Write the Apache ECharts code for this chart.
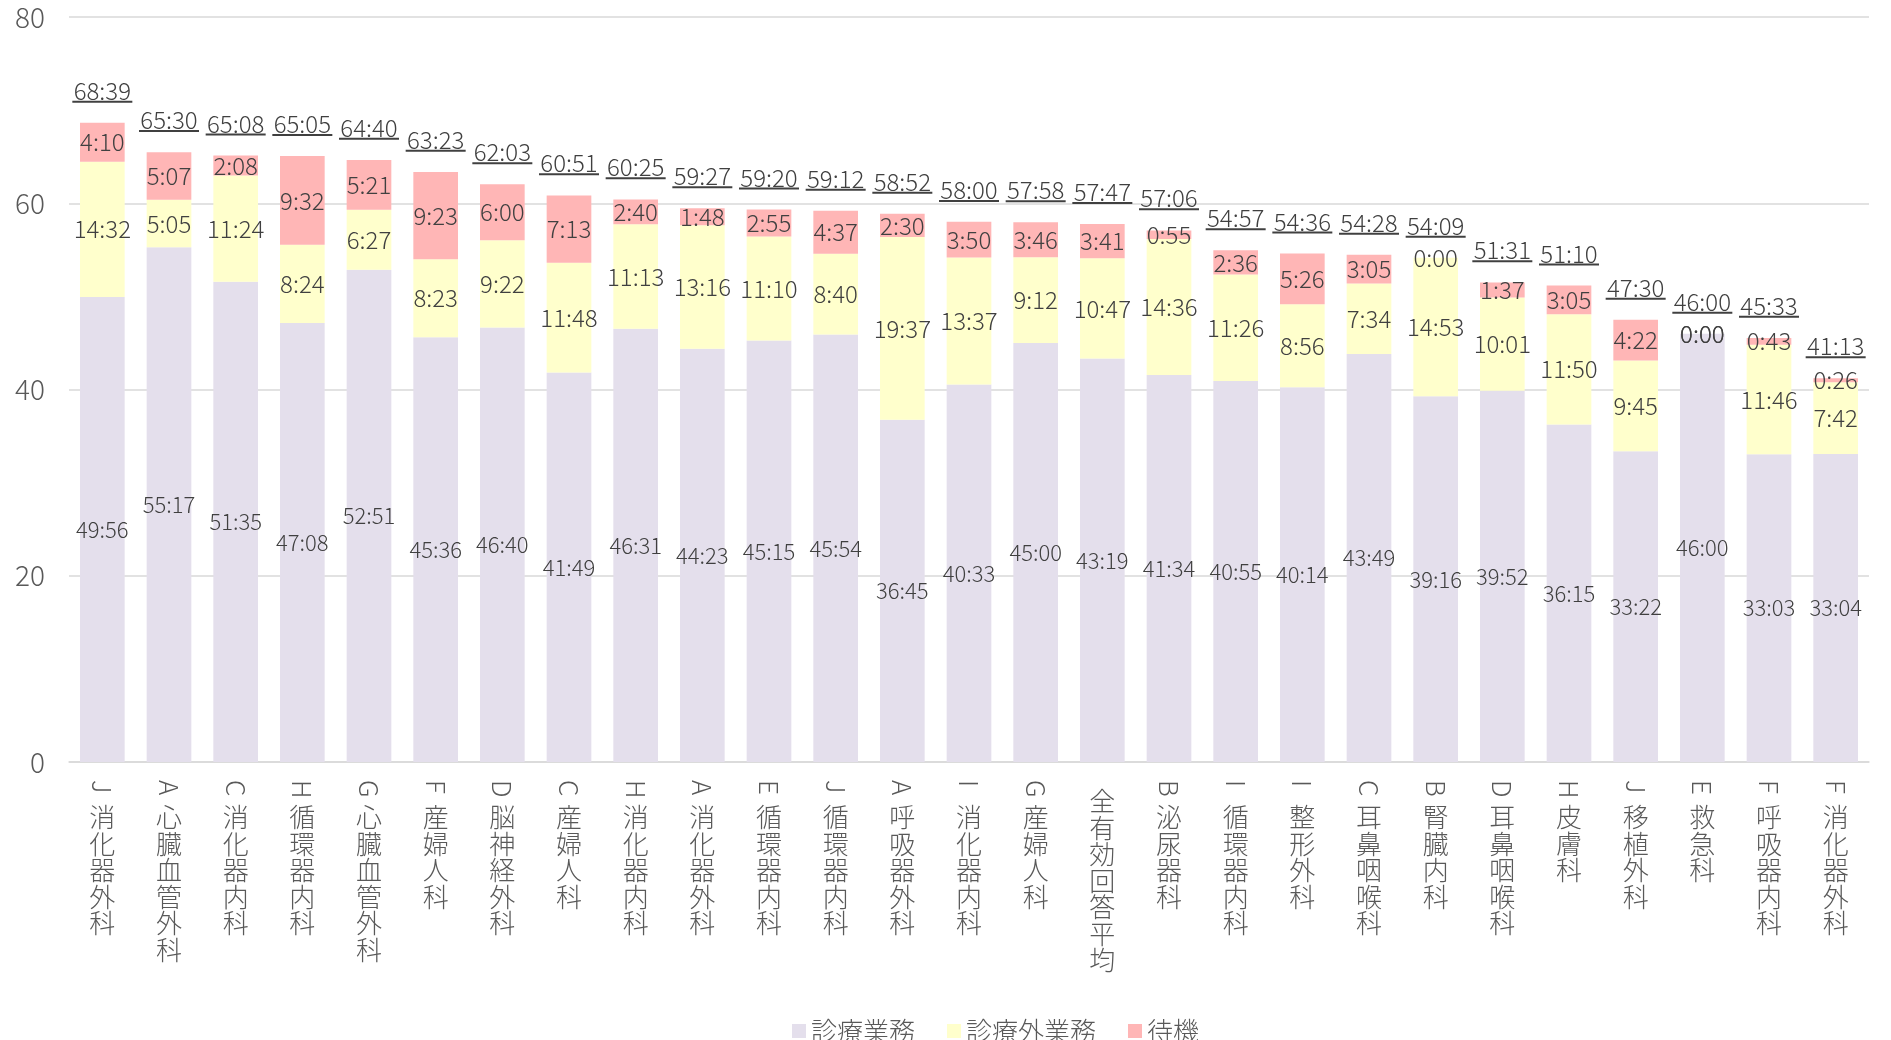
<!DOCTYPE html>
<html>
<head>
<meta charset="utf-8">
<script src="https://cdn.jsdelivr.net/npm/echarts@6/dist/echarts.min.js"></script>
<style>
  html, body { margin: 0; padding: 0; background: #fff; }
  #chart { width: 1891px; height: 1040px; }
</style>
</head>
<body>
<div id="chart"></div>
<script>
// 病院 + 診療科（平均勤務時間 h:mm / 週）
const categories = [
  'J 消化器外科', 'A 心臓血管外科', 'C 消化器内科', 'H 循環器内科', 'G 心臓血管外科',
  'F 産婦人科', 'D 脳神経外科', 'C 産婦人科', 'H 消化器内科', 'A 消化器外科',
  'E 循環器内科', 'J 循環器内科', 'A 呼吸器外科', 'I 消化器内科', 'G 産婦人科',
  '全有効回答平均', 'B 泌尿器科', 'I 循環器内科', 'I 整形外科', 'C 耳鼻咽喉科',
  'B 腎臓内科', 'D 耳鼻咽喉科', 'H 皮膚科', 'J 移植外科', 'E 救急科',
  'F 呼吸器内科', 'F 消化器外科'
];
const clinical = [
  '49:56', '55:17', '51:35', '47:08', '52:51', '45:36', '46:40', '41:49', '46:31', '44:23',
  '45:15', '45:54', '36:45', '40:33', '45:00', '43:19', '41:34', '40:55', '40:14', '43:49',
  '39:16', '39:52', '36:15', '33:22', '46:00', '33:03', '33:04'
];
const nonClinical = [
  '14:32', '5:05', '11:24', '8:24', '6:27', '8:23', '9:22', '11:48', '11:13', '13:16',
  '11:10', '8:40', '19:37', '13:37', '9:12', '10:47', '14:36', '11:26', '8:56', '7:34',
  '14:53', '10:01', '11:50', '9:45', '0:00', '11:46', '7:42'
];
const standby = [
  '4:10', '5:07', '2:08', '9:32', '5:21', '9:23', '6:00', '7:13', '2:40', '1:48',
  '2:55', '4:37', '2:30', '3:50', '3:46', '3:41', '0:55', '2:36', '5:26', '3:05',
  '0:00', '1:37', '3:05', '4:22', '0:00', '0:43', '0:26'
];
const totals = [
  '68:39', '65:30', '65:08', '65:05', '64:40', '63:23', '62:03', '60:51', '60:25', '59:27',
  '59:20', '59:12', '58:52', '58:00', '57:58', '57:47', '57:06', '54:57', '54:36', '54:28',
  '54:09', '51:31', '51:10', '47:30', '46:00', '45:33', '41:13'
];

const FONT = '"Noto Sans CJK JP", "Noto Sans", sans-serif';
const W = 300; // 細めの字

function toHours(s) {
  const p = s.split(':');
  return Number(p[0]) + Number(p[1]) / 60;
}

function segment(name, arr, color, size) {
  return {
    name: name,
    type: 'bar',
    stack: 'all',
    barCategoryGap: '33%',
    barGap: '-100%',
    itemStyle: { color: color },
    label: {
      show: true,
      position: 'inside',
      color: '#404040',
      fontFamily: FONT,
      fontWeight: W,
      fontSize: size,
      formatter: p => arr[p.dataIndex]
    },
    data: arr.map(toHours)
  };
}

const chart = echarts.init(document.getElementById('chart'));
chart.setOption({
  animation: false,
  textStyle: { fontFamily: FONT, fontWeight: W },
  grid: { left: 69, right: 22, top: 17, bottom: 278, containLabel: false },
  legend: {
    data: ['診療業務', '診療外業務', '待機'],
    left: 787,
    top: 1013,
    icon: 'rect',
    itemWidth: 14,
    itemHeight: 14,
    itemGap: 32,
    textStyle: { color: '#595959', fontSize: 26, fontFamily: FONT, fontWeight: W }
  },
  xAxis: [
    {
      type: 'category',
      data: categories,
      position: 'bottom',
      axisLine: { lineStyle: { color: '#d9d9d9', width: 1.5 } },
      axisTick: { show: false },
      axisLabel: {
        interval: 0,
        margin: 26,
        color: '#595959',
        fontFamily: FONT,
        fontWeight: W,
        fontSize: 26,
        lineHeight: 26.5,
        formatter: v => {
          const parts = v.split(' ');
          const name = parts.length > 1 ? parts[1] : parts[0];
          const chars = name.split('').join('\n');
          return parts.length > 1 ? '{gap|}\n' + chars : chars;
        },
        rich: { gap: { height: 16, lineHeight: 16 } }
      }
    },
    {
      type: 'category',
      data: categories,
      position: 'bottom',
      axisLine: { show: false },
      axisTick: { show: false },
      axisLabel: {
        interval: 0,
        rotate: -90,
        margin: 18,
        color: '#595959',
        fontFamily: FONT,
        fontWeight: W,
        fontSize: 26,
        formatter: v => {
          const parts = v.split(' ');
          return parts.length > 1 ? parts[0] : '';
        }
      }
    }
  ],
  yAxis: {
    type: 'value',
    min: 0,
    max: 80,
    interval: 20,
    axisLine: { show: false },
    axisTick: { show: false },
    axisLabel: { color: '#595959', fontSize: 28, margin: 24, fontFamily: FONT, fontWeight: W },
    splitLine: { lineStyle: { color: '#d9d9d9', width: 1.5 } }
  },
  series: [
    segment('診療業務', clinical, '#e4dfec', 22),
    segment('診療外業務', nonClinical, '#ffffcc', 24),
    segment('待機', standby, '#ffb6b6', 24),
    {
      name: '合計',
      type: 'bar',
      barGap: '-100%',
      barCategoryGap: '33%',
      itemStyle: { color: 'rgba(0,0,0,0)' },
      z: 1,
      label: {
        show: true,
        position: 'top',
        distance: 20,
        formatter: p => '{t|' + totals[p.dataIndex] + '}\n{u|}',
        rich: {
          t: { color: '#404040', fontSize: 24, fontWeight: W, lineHeight: 20, fontFamily: FONT, align: 'center' },
          u: { width: 60, height: 2, lineHeight: 2, backgroundColor: '#404040', align: 'center' }
        }
      },
      data: totals.map(toHours)
    }
  ]
});
</script>
</body>
</html>
